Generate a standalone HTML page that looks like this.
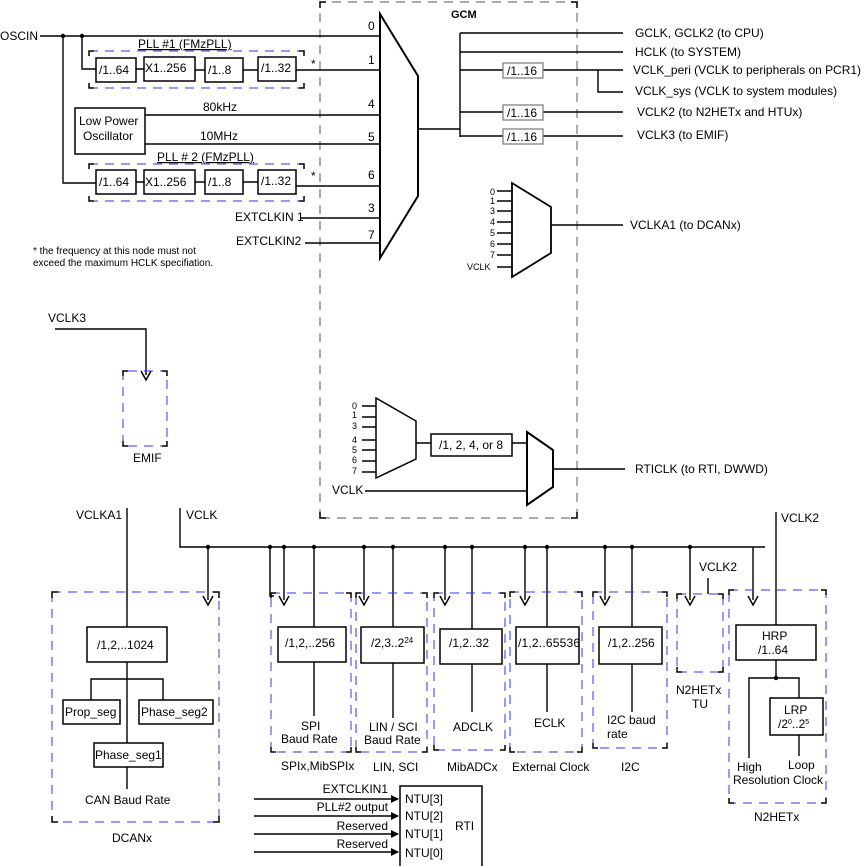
<!DOCTYPE html>
<html><head><meta charset="utf-8"><style>
html,body{margin:0;padding:0;background:#fff}
svg{display:block}
text{font-family:"Liberation Sans",Arial,sans-serif;font-size:12px;fill:#000}
.s{font-size:9px}
.n{font-size:10px}
.b{stroke:#000;stroke-width:1.4;fill:none}
.bx{stroke:#000;stroke-width:1.5;fill:#fff}
.gb{stroke:#777;stroke-width:1.2;fill:#fff}
.bl{stroke:#3333ee;stroke-width:1;fill:none;stroke-dasharray:9,7}
.gr{stroke:#777;stroke-width:1.2;fill:none;stroke-dasharray:9,7}
.cr{stroke:#000;stroke-width:1.5;fill:none}
</style></head><body>
<svg width="864" height="866" viewBox="0 0 864 866" xmlns="http://www.w3.org/2000/svg">
<defs>
<marker id="ar" markerWidth="8" markerHeight="8" refX="7" refY="4" orient="auto" markerUnits="userSpaceOnUse"><path d="M0,0 L8,4 L0,8 z" fill="#000"/></marker>
</defs>
<path class="gr" d="M320,518 L320,2 L577,2 L577,518 Z"/>
<path class="cr" d="M320,8 L320,2 L326,2 M571,2 L577,2 L577,8 M320,512 L320,518 L326,518 M571,518 L577,518 L577,512"/>
<text x="451" y="18" style="font-weight:bold;font-size:11px">GCM</text>
<path d="M380,14 L418,76 L418,196 L380,258 Z" fill="#fff" stroke="#000" stroke-width="2"/>
<text x="0" y="40">OSCIN</text>
<path class="b" d="M40,36 L380,36 M82,36 L82,69 L96,69 M63,36 L63,183 L96,183"/>
<circle cx="63" cy="36" r="2.2"/><circle cx="82" cy="36" r="2.2"/>
<path class="bl" d="M89,51 L304,51 M89,88 L304,88"/>
<path class="cr" d="M89,56 L89,51 L94,51 M299,51 L304,51 L304,56 M89,83 L89,88 L94,88 M299,88 L304,88 L304,83"/>
<text x="138" y="48" text-decoration="underline">PLL #1 (FMzPLL)</text>
<rect class="bx" x="96" y="58" width="40" height="24"/><text x="99" y="74">/1..64</text>
<rect class="bx" x="144" y="57" width="51" height="24"/><text x="145" y="72">X1..256</text>
<rect class="bx" x="205" y="58" width="38" height="24"/><text x="208" y="74">/1..8</text>
<rect class="bx" x="258" y="57" width="38" height="24"/><text x="261" y="72">/1..32</text>
<path class="b" d="M136,69 L144,69 M195,70 L205,70 M243,70 L258,70 M296,70 L380,70"/>
<text x="311" y="68">*</text><text x="368" y="64">1</text><text x="368" y="30">0</text>
<rect class="bx" x="75" y="108" width="70" height="46"/>
<text x="79" y="125">Low Power</text><text x="83" y="140">Oscillator</text>
<path class="b" d="M145,115 L380,115 M145,144 L380,144"/>
<text x="203" y="111">80kHz</text><text x="200" y="140">10MHz</text>
<text x="368" y="108">4</text><text x="368" y="141">5</text>
<path class="bl" d="M89,164 L304,164 M89,201 L304,201"/>
<path class="cr" d="M89,169 L89,164 L94,164 M299,164 L304,164 L304,169 M89,196 L89,201 L94,201 M299,201 L304,201 L304,196"/>
<text x="157" y="161" text-decoration="underline">PLL # 2  (FMzPLL)</text>
<rect class="bx" x="96" y="170" width="40" height="24"/><text x="99" y="186">/1..64</text>
<rect class="bx" x="144" y="170" width="51" height="24"/><text x="145" y="186">X1..256</text>
<rect class="bx" x="205" y="170" width="38" height="24"/><text x="208" y="186">/1..8</text>
<rect class="bx" x="258" y="170" width="38" height="24"/><text x="261" y="185">/1..32</text>
<path class="b" d="M136,182 L144,182 M195,182 L205,182 M243,182 L258,182 M296,186 L380,186"/>
<text x="311" y="180">*</text><text x="368" y="179">6</text>
<text x="235" y="221">EXTCLKIN 1</text><path class="b" d="M301,218 L380,218"/><text x="368" y="212">3</text>
<text x="236" y="245">EXTCLKIN2</text><path class="b" d="M305,243 L380,243"/><text x="368" y="239">7</text>
<text class="n" x="33" y="254">* the frequency at this node must not</text>
<text class="n" x="33" y="266">exceed the maximum HCLK specifiation.</text>
<path class="b" d="M418,129 L460,129 M460,33 L460,137 M460,33 L623,33 M460,52 L623,52 M460,70 L503,70 M543,70 L623,70 M598,70 L598,92 L623,92 M460,112 L503,112 M543,112 L623,112 M460,136 L503,136 M543,136 L623,136"/>
<rect class="gb" x="503" y="63" width="40" height="15"/><text x="507" y="75">/1..16</text>
<rect class="gb" x="503" y="105" width="40" height="15"/><text x="507" y="117">/1..16</text>
<rect class="gb" x="503" y="129" width="40" height="15"/><text x="507" y="141">/1..16</text>
<text x="635" y="37">GCLK, GCLK2 (to CPU)</text>
<text x="635" y="56">HCLK (to SYSTEM)</text>
<text x="633" y="74" textLength="228">VCLK_peri (VCLK to peripherals on PCR1)</text>
<text x="635" y="95">VCLK_sys (VCLK to system modules)</text>
<text x="637" y="116">VCLK2 (to N2HETx  and HTUx)</text>
<text x="637" y="139">VCLK3 (to EMIF)</text>
<path d="M512,183 L551,207 L551,253 L512,277 Z" fill="#fff" stroke="#000" stroke-width="1.8"/>
<path class="b" d="M497,191H512M497,201H512M497,211H512M497,222H512M497,233H512M497,244H512M497,255H512M497,267H512M551,225H623"/>
<text class="s" x="490" y="195">0</text><text class="s" x="490" y="204">1</text><text class="s" x="490" y="214">3</text><text class="s" x="490" y="225">4</text><text class="s" x="490" y="236">5</text><text class="s" x="490" y="247">6</text><text class="s" x="490" y="258">7</text><text class="s" x="467" y="270">VCLK</text>
<text x="630" y="229">VCLKA1 (to DCANx)</text>
<path d="M376,398 L416,421 L416,459 L376,478 Z" fill="#fff" stroke="#000" stroke-width="1.5"/>
<path class="b" d="M362,406H376M362,417H376M362,427H376M362,440H376M362,450H376M362,461H376M362,472H376M416,443H431M512,443H527"/>
<text class="s" x="352" y="409">0</text><text class="s" x="352" y="418">1</text><text class="s" x="352" y="429">3</text><text class="s" x="352" y="443">4</text><text class="s" x="352" y="453">5</text><text class="s" x="352" y="463">6</text><text class="s" x="352" y="474">7</text>
<rect class="bx" x="431" y="434" width="81" height="22"/><text x="439" y="449">/1, 2, 4, or 8</text>
<path d="M527,432 L553,450 L553,487 L527,505 Z" fill="#fff" stroke="#000" stroke-width="2"/>
<path class="b" d="M553,469H625M365,491H527"/>
<text x="332" y="494">VCLK</text>
<text x="635" y="473">RTICLK (to RTI, DWWD)</text>
<text x="48" y="322">VCLK3</text>
<path class="b" d="M55,329 L146,329 L146,375"/>
<path class="cr" d="M141,371 L146,380 L151,371"/>
<path class="bl" d="M123,371 L123,446 L167,446 L167,371 Z"/>
<path class="cr" d="M123,376V371H128M162,371H167V376M123,441V446H128M162,446H167V441"/>
<text x="133" y="462">EMIF</text>
<text x="76" y="519">VCLKA1</text>
<path class="b" d="M127,508 L127,627 M127,662 L127,743 M91,700 L91,679 L163,679 L163,700 M127,767 L127,789"/>
<rect class="bx" x="87" y="627" width="80" height="35"/><text x="97" y="649">/1,2,..1024</text>
<rect class="bx" x="63" y="700" width="57" height="24"/><text x="65" y="716">Prop_seg</text>
<rect class="bx" x="139" y="700" width="74" height="24"/><text x="141" y="716">Phase_seg2</text>
<rect class="bx" x="94" y="743" width="69" height="24"/><text x="95" y="759">Phase_seg1</text>
<text x="85" y="804">CAN Baud Rate</text>
<path class="bl" d="M52,592 L219,592 L219,822 L52,822 Z"/>
<path class="cr" d="M52,598V592H58M213,592H219V598M52,816V822H58M213,822H219V816"/>
<text x="112" y="842">DCANx</text>
<text x="186" y="519">VCLK</text>
<path class="b" d="M180,508 L180,547 L765,547"/>
<g fill="#000"><circle cx="208" cy="547" r="2.2"/><circle cx="270" cy="547" r="2.2"/><circle cx="284" cy="547" r="2.2"/><circle cx="314" cy="547" r="2.2"/><circle cx="364" cy="547" r="2.2"/><circle cx="393" cy="547" r="2.2"/><circle cx="445" cy="547" r="2.2"/><circle cx="472" cy="547" r="2.2"/><circle cx="525" cy="547" r="2.2"/><circle cx="547" cy="547" r="2.2"/><circle cx="605" cy="547" r="2.2"/><circle cx="632" cy="547" r="2.2"/><circle cx="690" cy="547" r="2.2"/></g>
<path class="b" d="M208,547V600M270,547V596H274M284,547V600M364,547V600M445,547V600M525,547V600M605,547V600M690,547V600M753,547V600"/>
<path class="cr" d="M203,596L208,605L213,596M279,596L284,605L289,596M359,596L364,605L369,596M440,596L445,605L450,596M520,596L525,605L530,596M600,596L605,605L610,596M685,596L690,605L695,596M748,596L753,605L758,596"/>
<path class="b" d="M314,547V627M314,662V716M393,547V627M393,663V718M472,547V629M472,664V712M547,547V627M547,664V712M632,547V627M632,664V712"/>
<path class="bl" d="M271,593H351V752H271ZM356,593H427V752H356ZM434,593H505V750H434ZM510,592H582V752H510ZM593,592H667V748H593ZM677,594H723V672H677ZM729,590H826V803H729Z"/>
<path class="cr" d="M271,598V593H276M346,593H351V598M271,747V752H276M346,752H351V747
M356,598V593H361M422,593H427V598M356,747V752H361M422,752H427V747
M434,598V593H439M500,593H505V598M434,745V750H439M500,750H505V745
M510,597V592H515M577,592H582V597M510,747V752H515M577,752H582V747
M593,597V592H598M662,592H667V597M593,743V748H598M662,748H667V743
M677,599V594H682M718,594H723V599M677,667V672H682M718,672H723V667
M729,595V590H734M821,590H826V595M729,798V803H734M821,803H826V798"/>
<rect class="bx" x="278" y="627" width="68" height="35"/><text x="285" y="647">/1,2,..256</text>
<text x="301" y="730">SPI</text><text x="281" y="743">Baud Rate</text>
<text x="281" y="770">SPIx,MibSPIx</text>
<rect class="bx" x="361" y="627" width="63" height="36"/><text x="371" y="647">/2,3..2<tspan dy="-4" font-size="8">24</tspan></text>
<text x="369" y="731">LIN / SCI</text><text x="364" y="744">Baud Rate</text>
<text x="373" y="771">LIN, SCI</text>
<rect class="bx" x="440" y="629" width="62" height="35"/><text x="449" y="647">/1,2..32</text>
<text x="453" y="731">ADCLK</text><text x="447" y="771">MibADCx</text>
<rect class="bx" x="516" y="627" width="63" height="37"/><text x="518" y="647" textLength="62">/1,2..65536</text>
<text x="534" y="727">ECLK</text><text x="512" y="771">External Clock</text>
<rect class="bx" x="599" y="627" width="63" height="37"/><text x="608" y="647">/1,2..256</text>
<text x="607" y="724">I2C baud</text><text x="607" y="738">rate</text>
<text x="621" y="771">I2C</text>
<text x="699" y="571">VCLK2</text>
<path class="b" d="M708,578V594"/>
<text x="676" y="694">N2HETx</text><text x="692" y="708">TU</text>
<text x="781" y="522">VCLK2</text>
<path class="b" d="M776,512V625M776,660V678M749,758V678H799V698M799,735V756"/>
<circle cx="776" cy="678" r="2.2"/>
<rect class="bx" x="736" y="625" width="80" height="35"/><text x="762" y="640">HRP</text><text x="758" y="654">/1..64</text>
<rect class="bx" x="770" y="698" width="53" height="37"/><text x="784" y="714">LRP</text><text x="778" y="728">/2<tspan dy="-4" font-size="7">0</tspan><tspan dy="4">..2</tspan><tspan dy="-4" font-size="7">5</tspan></text>
<text x="737" y="771">High</text><text x="788" y="769">Loop</text>
<text x="733" y="784">Resolution Clock</text>
<text x="754" y="821">N2HETx</text>
<rect class="bx" x="400" y="786" width="82" height="82"/>
<path class="b" d="M254,799H398" marker-end="url(#ar)"/><path class="b" d="M254,816H398" marker-end="url(#ar)"/><path class="b" d="M254,834H398" marker-end="url(#ar)"/><path class="b" d="M254,852H398" marker-end="url(#ar)"/>
<text x="388" y="793" text-anchor="end">EXTCLKIN1</text>
<text x="388" y="811" text-anchor="end">PLL#2 output</text>
<text x="388" y="830" text-anchor="end">Reserved</text>
<text x="388" y="848" text-anchor="end">Reserved</text>
<text x="405" y="803">NTU[3]</text><text x="405" y="820">NTU[2]</text><text x="405" y="838">NTU[1]</text><text x="405" y="857">NTU[0]</text>
<text x="455" y="830">RTI</text>
</svg>
</body></html>
